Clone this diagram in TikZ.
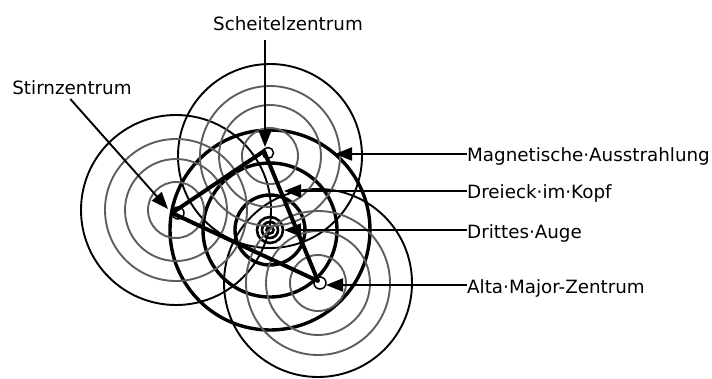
\documentclass[tikz,border=0pt]{standalone}
\usepackage{fontspec}
\setmainfont{DejaVu Sans}
\usetikzlibrary{arrows.meta}
\definecolor{ring_gris}{HTML}{5E5E5E}

\begin{document}
\begin{tikzpicture}[x=1pt,y=-1pt,
    ring/.style={line width=1.9pt,color=ring_gris},
    halo/.style={line width=1.9pt},
    bold/.style={line width=3.4pt},
    edge/.style={line width=4pt,line join=round},
    pointer/.style={line width=1.9pt,-{Triangle[length=17pt,width=13pt]}},
    lbl/.style={inner sep=0pt,font=\fontsize{18.3}{22}\selectfont}]

    \useasboundingbox (0,0) rectangle (712,378);

    % centres
    \coordinate (stirn) at (176,210);
    \coordinate (scheitel) at (270,156);
    \coordinate (alta) at (318,283);
    \coordinate (auge) at (270,230);

    % outer halos
    \draw[halo] (stirn) circle (95pt);
    \draw[halo] (scheitel) circle (92pt);
    \draw[halo] (alta) circle (94pt);

    % magnetic field round the third eye
    \draw[bold] (auge) circle (35pt) circle (67pt) circle (100pt);
    \draw[line width=2.6pt] (auge) circle (3.5pt) circle (8pt) circle (13pt);

    % grey rings
    \draw[ring] (stirn) circle (28pt) circle (51pt) circle (71pt);
    \draw[ring] (scheitel) circle (28pt) circle (51pt) circle (70pt);
    \draw[ring] (alta) circle (28pt) circle (52pt) circle (72pt);

    % triangle
    \coordinate (vL) at (172,213);
    \coordinate (vT) at (264,151);
    \coordinate (vB) at (318,281);
    \draw[edge] (vL) -- (vT) -- (vB) -- cycle;
    \draw[line width=1.5pt] (178,213) circle (6pt);
    \draw[line width=1.5pt] (268,153) circle (5.5pt);
    \draw[line width=1.5pt] (320,283) circle (6pt);

    % labels
    \node[lbl] (scheitelLbl) at (288,24) {Scheitelzentrum};
    \node[lbl] (stirnLbl) at (72,88) {Stirnzentrum};
    \node[lbl,anchor=west] (magLbl) at (467,156) {Magnetische·Ausstrahlung};
    \node[lbl,anchor=west] (dreieckLbl) at (467,193) {Dreieck·im·Kopf};
    \node[lbl,anchor=west] (augeLbl) at (467,233) {Drittes·Auge};
    \node[lbl,anchor=west] (altaLbl) at (467,288) {Alta·Major-Zentrum};

    \coordinate (scheitelTip) at (265,147);
    \coordinate (stirnTip) at (168,209);
    \coordinate (magTip) at (335,154);
    \coordinate (dreieckTip) at (284,191);
    \coordinate (augeTip) at (284,230);
    \coordinate (altaTip) at (326,285);

    \draw[pointer,shorten <=9pt] (scheitelLbl.south -| scheitelTip) -- (scheitelTip);
    \draw[pointer,shorten <=5pt] ([xshift=-5pt]stirnLbl.south) -- (stirnTip);
    \draw[pointer] (magLbl.west |- magTip) -- (magTip);
    \draw[pointer] (dreieckLbl.west |- dreieckTip) -- (dreieckTip);
    \draw[pointer] (augeLbl.west |- augeTip) -- (augeTip);
    \draw[pointer] (altaLbl.west |- altaTip) -- (altaTip);

\end{tikzpicture}
\end{document}
